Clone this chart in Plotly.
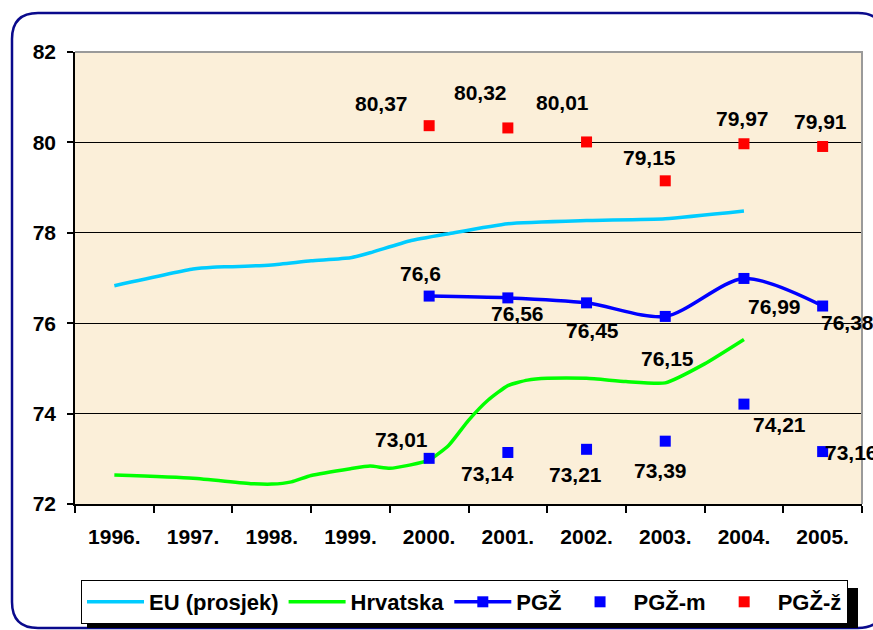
import plotly.graph_objects as go

# ---------------- data ----------------
years = ["1996.", "1997.", "1998.", "1999.", "2000.", "2001.", "2002.", "2003.", "2004.", "2005."]

# EU average (x = position in years from 1996)
eu_x = [0, 1, 1.25, 1.5, 2, 2.5, 3, 3.25, 3.75, 4.25, 5, 6, 7, 8]
eu_y = [76.83, 77.2, 77.24, 77.25, 77.29, 77.38, 77.45, 77.56, 77.82, 77.98, 78.2, 78.27, 78.31, 78.48]

# Hrvatska
hr_x = [0, 1, 1.75, 2, 2.25, 2.5, 3, 3.25, 3.5, 3.75, 4, 4.25, 4.5, 4.75, 5, 5.25, 5.5, 6, 6.5, 7, 7.5, 8]
hr_y = [72.64, 72.57, 72.45, 72.44, 72.49, 72.63, 72.78, 72.84, 72.79, 72.86, 72.97, 73.3, 73.85, 74.3,
        74.62, 74.74, 74.78, 74.78, 74.71, 74.68, 75.1, 75.64]

pgz_years = ["2000.", "2001.", "2002.", "2003.", "2004.", "2005."]
pgz = [76.6, 76.56, 76.45, 76.15, 76.99, 76.38]
pgz_m = [73.01, 73.14, 73.21, 73.39, 74.21, 73.16]
pgz_z = [80.37, 80.32, 80.01, 79.15, 79.97, 79.91]

# label offsets in pixels (dx right, dy down) - styling only
off_pgz = [(-9, -23), (10, 16), (6, 28), (2, 42), (31, 28), (25, 16)]
off_m = [(-28, -19), (-20, 21), (-11, 25), (-5, 29), (36, 20), (29, 1)]
off_z = [(-48, -22), (-27, -35), (-24, -39), (-16, -23), (-1, -25), (-2, -25)]

FONT = "Liberation Sans, Arial, sans-serif"
pgz_x = [years.index(y) for y in pgz_years]

fig = go.Figure()
fig.add_trace(go.Scatter(x=eu_x, y=eu_y, mode="lines", name="EU (prosjek)",
                         line=dict(color="#00CCFF", width=3.5, shape="spline", smoothing=0.5)))
fig.add_trace(go.Scatter(x=hr_x, y=hr_y, mode="lines", name="Hrvatska",
                         line=dict(color="#00FF00", width=3.5, shape="spline", smoothing=0.5)))
fig.add_trace(go.Scatter(x=pgz_x, y=pgz, mode="lines+markers", name="PGŽ",
                         line=dict(color="#0000FF", width=3.5, shape="spline", smoothing=0.8),
                         marker=dict(symbol="square", size=11, color="#0000FF")))
fig.add_trace(go.Scatter(x=pgz_x, y=pgz_m, mode="markers", name="PGŽ-m",
                         marker=dict(symbol="square", size=11, color="#0000FF")))
fig.add_trace(go.Scatter(x=pgz_x, y=pgz_z, mode="markers", name="PGŽ-ž",
                         marker=dict(symbol="square", size=11, color="#FF0000")))

def fmt(v):
    s = ("%.2f" % v).rstrip("0").rstrip(".")
    return s.replace(".", ",")

ann = []
for vals, offs in ((pgz, off_pgz), (pgz_m, off_m), (pgz_z, off_z)):
    for xi, v, (dx, dy) in zip(pgz_x, vals, offs):
        ann.append(dict(x=xi, y=v, xref="x", yref="y", text=fmt(v), showarrow=False,
                        xshift=dx, yshift=-dy,
                        font=dict(family=FONT, size=21, color="black", weight="bold")))

# geometry (body margin removed by post_script, figure drawn at 0,0)
W, H = 873, 630
L, R, T, B = 75, 11, 52, 126
pw, ph = W - L - R, H - T - B
def px(x):
    return (x - L) / pw
def py(y):
    return (H - B - y) / ph

# outer rounded frame
x0, y0, x1, y1, r = 12, 13, 884, 628, 26
path = (f"M {px(x0+r)},{py(y0)} L {px(x1-r)},{py(y0)} Q {px(x1)},{py(y0)} {px(x1)},{py(y0+r)} "
        f"L {px(x1)},{py(y1-r)} Q {px(x1)},{py(y1)} {px(x1-r)},{py(y1)} "
        f"L {px(x0+r)},{py(y1)} Q {px(x0)},{py(y1)} {px(x0)},{py(y1-r)} "
        f"L {px(x0)},{py(y0+r)} Q {px(x0)},{py(y0)} {px(x0+r)},{py(y0)} Z")
shapes = [
    dict(type="path", xref="paper", yref="paper", path=path,
         line=dict(color="#0A0A8C", width=2.5), layer="above"),
    # grey plot border top & right
    dict(type="path", xref="paper", yref="paper", path="M 0,1 L 1,1 L 1,0",
         line=dict(color="#9A9A9A", width=2), layer="above"),
    # legend shadow
    dict(type="rect", xref="paper", yref="paper", x0=px(87), x1=px(858), y0=py(628), y1=py(588),
         fillcolor="black", line=dict(width=0), layer="above"),
]

fig.update_layout(
    width=W, height=H,
    margin=dict(l=L, r=R, t=T, b=B, autoexpand=False),
    paper_bgcolor="white",
    plot_bgcolor="#FBEFD9",
    font=dict(family=FONT, color="black"),
    showlegend=True,
    legend=dict(orientation="h", xref="container", yref="container",
                x=81 / W, y=(H - 580) / H, xanchor="left", yanchor="top",
                bgcolor="white", bordercolor="black", borderwidth=1,
                font=dict(family=FONT, size=22, color="black", weight="bold"),
                itemwidth=57, tracegroupgap=0),
    annotations=ann,
    shapes=shapes,
)
fig.update_xaxes(range=[-0.5, 9.5], tickmode="array", tickvals=list(range(len(years))), ticktext=years,
                 ticks="", showline=True, linecolor="black", linewidth=1.5, showgrid=False, zeroline=False,
                 ticklabelstandoff=13,
                 tickfont=dict(family=FONT, size=21, color="black", weight="bold"),
                 minor=dict(tickmode="linear", tick0=-0.5, dtick=1, ticks="outside", ticklen=7,
                            tickcolor="black", tickwidth=1.5, showgrid=False))
fig.update_yaxes(range=[72, 82], dtick=2, ticks="outside", ticklen=6, tickcolor="black", tickwidth=1.5,
                 showline=True, linecolor="black", linewidth=1.5, showgrid=True, gridcolor="black",
                 gridwidth=1, zeroline=False, ticklabelstandoff=7,
                 tickfont=dict(family=FONT, size=21, color="black", weight="bold"))

fig.write_html("out.html", config={"displayModeBar": False},
               post_script="document.body.style.margin='0';document.body.style.overflow='hidden';")
